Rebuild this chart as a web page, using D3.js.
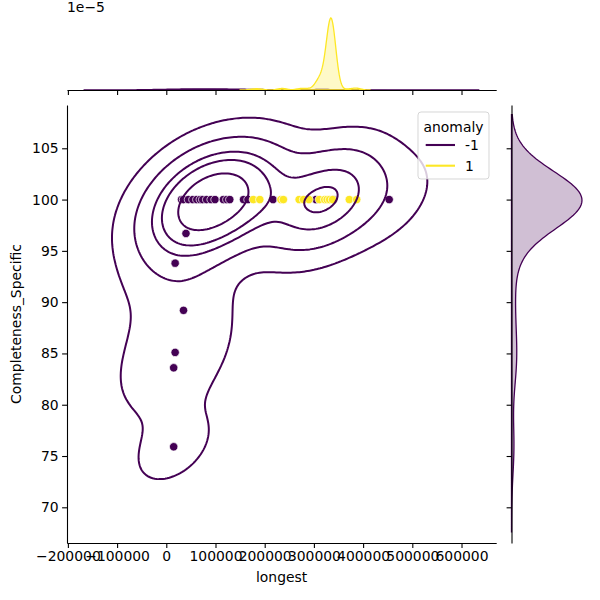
<!DOCTYPE html>
<html>
<head>
<meta charset="utf-8">
<script src="https://cdn.jsdelivr.net/npm/d3@7"></script>
<style>
  body { margin: 0; background: #fff; }
  text { font-family: "DejaVu Sans", sans-serif; fill: #000; }
</style>
</head>
<body>
<div id="chart"></div>
<script>
// anomaly = -1 points (longest, Completeness_Specific, how many rows share the spot)
const negLongest = [31000, 35000, 45000, 54000, 62000, 69000, 74000, 82000, 91000, 99000,
    116000, 123000, 129000, 157000, 166000, 217000, 304000, 340000, 453000,
    40000, 18000, 35000, 18000, 15000, 15000];
const negCompleteness = [100, 100, 100, 100, 100, 100, 100, 100, 100, 100,
    100, 100, 100, 100, 100, 100, 100, 100, 100,
    96.7, 93.8, 89.2, 85.1, 83.6, 75.9];
const negCount = [1, 1, 1, 1, 1, 1, 1, 1, 1, 2,
    2, 2, 2, 1, 1, 1, 4, 4, 1,
    1, 1, 1, 1, 1, 1];

// anomaly = 1 points
const posLongest = [177000, 190000, 233000, 238000, 270000, 279000, 290000, 311000, 322000, 327000, 332000, 338000, 372000, 387000];
const posCompleteness = [100, 100, 100, 100, 100, 100, 100, 100, 100, 100, 100, 100, 100, 100];
const posCount = [2, 2, 2, 2, 2, 2, 2, 24, 6, 6, 90, 90, 2, 4];

const hueLevels = ["-1", "1"];
const xTicks = [-200000, -100000, 0, 100000, 200000, 300000, 400000, 500000, 600000];
const yTicks = [70, 75, 80, 85, 90, 95, 100, 105];

const width = 600, height = 600;
const main = { left: 67, right: 496.2, top: 105, bottom: 543 };
const topBox = { top: 14.4, bottom: 90 };
const rightBox = { left: 511.5, right: 585.5 };
const color = d3.scaleOrdinal().domain(hueLevels).range(["#440154", "#fde725"]);
const fontSize = 13.9;
const tickLen = 4.9;

const x = d3.scaleLinear().domain([-201800, 670500]).range([main.left, main.right]);
const y = d3.scaleLinear().domain([66.52, 109.22]).range([main.bottom, main.top]);

// expand the repeated rows
function rows(xs, ys, counts) {
    const out = [];
    xs.forEach((v, i) => { for (let k = 0; k < counts[i]; k++) out.push([v, ys[i]]); });
    return out;
}
const negRows = rows(negLongest, negCompleteness, negCount);
const posRows = rows(posLongest, posCompleteness, posCount);
const total = negRows.length + posRows.length;

// gaussian kde, scott bandwidth (like scipy)
function kde1d(v, cut = 3, size = 200) {
    const n = v.length, bw = d3.deviation(v) * Math.pow(n, -0.2);
    const lo = d3.min(v) - cut * bw, hi = d3.max(v) + cut * bw;
    const k = 1 / (n * bw * Math.sqrt(2 * Math.PI));
    return d3.range(size).map(i => {
        const g = lo + (hi - lo) * i / (size - 1);
        return [g, k * d3.sum(v, t => Math.exp(-0.5 * ((g - t) / bw) ** 2))];
    });
}

function kde2d(pts, size = 200, cut = 3) {
    const n = pts.length;
    const mx = d3.mean(pts, p => p[0]), my = d3.mean(pts, p => p[1]);
    let sxx = 0, syy = 0, sxy = 0;
    pts.forEach(p => {
        const dx = p[0] - mx, dy = p[1] - my;
        sxx += dx * dx; syy += dy * dy; sxy += dx * dy;
    });
    const f2 = Math.pow(n, -1 / 3);
    const a = sxx / (n - 1) * f2, c = syy / (n - 1) * f2, b = sxy / (n - 1) * f2;
    const det = a * c - b * b;
    const ia = c / det, ic = a / det, ib = -b / det;
    const bx = Math.sqrt(a), by = Math.sqrt(c);
    const x0 = d3.min(pts, p => p[0]) - cut * bx, x1 = d3.max(pts, p => p[0]) + cut * bx;
    const y0 = d3.min(pts, p => p[1]) - cut * by, y1 = d3.max(pts, p => p[1]) + cut * by;
    const sx = (x1 - x0) / (size - 1), sy = (y1 - y0) / (size - 1);
    const values = new Float64Array(size * size);
    for (let j = 0; j < size; j++) {
        const gy = y0 + j * sy;
        for (let i = 0; i < size; i++) {
            const gx = x0 + i * sx;
            let s = 0;
            for (const p of pts) {
                const dx = gx - p[0], dy = gy - p[1];
                s += Math.exp(-0.5 * (ia * dx * dx + 2 * ib * dx * dy + ic * dy * dy));
            }
            values[j * size + i] = s;
        }
    }
    return { values, x0, y0, sx, sy, size };
}

// iso-proportion levels -> density levels (seaborn style)
function isoLevels(values, props) {
    const sorted = Array.from(values).sort((p, q) => q - p);
    const sum = d3.sum(sorted);
    const cum = [];
    let acc = 0;
    sorted.forEach(v => { acc += v; cum.push(acc / sum); });
    return props.map(p => sorted[Math.min(d3.bisectLeft(cum, 1 - p), sorted.length - 1)]);
}

const svg = d3.select("#chart").append("svg")
    .attr("width", width)
    .attr("height", height)
    .style("font-family", "DejaVu Sans, sans-serif");

svg.append("defs").append("clipPath").attr("id", "clip-main")
    .append("rect")
    .attr("x", main.left).attr("y", main.top)
    .attr("width", main.right - main.left).attr("height", main.bottom - main.top);

// ---- joint: scatter ----
const scatter = negLongest.map((v, i) => ({ x: v, y: negCompleteness[i], hue: "-1" }))
    .concat(posLongest.map((v, i) => ({ x: v, y: posCompleteness[i], hue: "1" })));

svg.append("g").attr("clip-path", "url(#clip-main)")
    .selectAll("circle")
    .data(scatter)
    .enter()
    .append("circle")
    .attr("cx", d => x(d.x))
    .attr("cy", d => y(d.y))
    .attr("r", 4.2)
    .attr("fill", d => color(d.hue))
    .attr("stroke", "white")
    .attr("stroke-width", 0.7);

// ---- joint: kde contours for -1 (the 1 group has a constant y) ----
const dens = kde2d(negRows);
const levelCount = 6, thresh = 0.05;
const props = d3.range(levelCount - 1).map(i => thresh + (1 - thresh) * i / (levelCount - 1));
const levels = isoLevels(dens.values, props);
const contours = d3.contours().size([dens.size, dens.size]).thresholds(levels)(dens.values);
const proj = d3.geoTransform({
    point(gx, gy) {
        this.stream.point(x(dens.x0 + (gx - 0.5) * dens.sx), y(dens.y0 + (gy - 0.5) * dens.sy));
    }
});
svg.append("g").attr("clip-path", "url(#clip-main)")
    .selectAll("path")
    .data(contours)
    .enter()
    .append("path")
    .attr("d", d3.geoPath(proj))
    .attr("fill", "none")
    .attr("stroke", color("-1"))
    .attr("stroke-width", 2);

// ---- main axes ----
const fmt = v => d3.format("d")(v).replace("-", "\u2212");
const gx = svg.append("g").attr("transform", `translate(0,${main.bottom})`)
    .call(d3.axisBottom(x).tickValues(xTicks).tickFormat(fmt).tickSizeInner(tickLen).tickSizeOuter(0).tickPadding(3.5));
const gy = svg.append("g").attr("transform", `translate(${main.left},0)`)
    .call(d3.axisLeft(y).tickValues(yTicks).tickSizeInner(tickLen).tickSizeOuter(0).tickPadding(3.5));
[gx, gy].forEach(g => {
    g.select(".domain").attr("stroke", "#000").attr("stroke-width", 1.1);
    g.selectAll(".tick line").attr("stroke", "#000").attr("stroke-width", 1.1);
    g.selectAll(".tick text").attr("font-size", fontSize).attr("font-family", "DejaVu Sans").attr("fill", "#000");
});

svg.append("text")
    .attr("x", (main.left + main.right) / 2)
    .attr("y", 582)
    .attr("text-anchor", "middle")
    .attr("font-size", fontSize)
    .text("longest");

svg.append("text")
    .attr("transform", `translate(21,${(main.top + main.bottom) / 2}) rotate(-90)`)
    .attr("text-anchor", "middle")
    .attr("font-size", fontSize)
    .text("Completeness_Specific");

// ---- top marginal ----
const topCurves = [
    { hue: "-1", pts: kde1d(negRows.map(d => d[0])).map(d => [d[0], d[1] * negRows.length / total]) },
    { hue: "1", pts: kde1d(posRows.map(d => d[0])).map(d => [d[0], d[1] * posRows.length / total]) }
];
const topMax = d3.max(topCurves, c => d3.max(c.pts, d => d[1]));
const yTop = d3.scaleLinear().domain([0, topMax * 1.05]).range([topBox.bottom, topBox.top]);
const topArea = d3.area().x(d => x(d[0])).y0(yTop(0)).y1(d => yTop(d[1]));

topCurves.forEach(c => {
    svg.append("path").attr("d", topArea(c.pts))
        .attr("fill", color(c.hue)).attr("fill-opacity", 0.25)
        .attr("stroke", color(c.hue)).attr("stroke-width", 1.3);
});
svg.append("g").attr("transform", `translate(0,${topBox.bottom})`)
    .call(d3.axisBottom(x).tickValues(xTicks).tickFormat("").tickSizeInner(tickLen).tickSizeOuter(0))
    .call(g => g.select(".domain").attr("stroke", "#000").attr("stroke-width", 1.1))
    .call(g => g.selectAll(".tick line").attr("stroke", "#000").attr("stroke-width", 1.1));

svg.append("text")
    .attr("x", main.left)
    .attr("y", 12)
    .attr("font-size", fontSize)
    .text("1e\u22125");

// ---- right marginal ----
const rightPts = kde1d(negRows.map(d => d[1])).map(d => [d[0], d[1] * negRows.length / total]);
const rightMax = d3.max(rightPts, d => d[1]);
const xRight = d3.scaleLinear().domain([0, rightMax * 1.05]).range([rightBox.left, rightBox.right]);
const rightArea = d3.area().y(d => y(d[0])).x0(xRight(0)).x1(d => xRight(d[1]));
svg.append("path").attr("d", rightArea(rightPts))
    .attr("fill", color("-1")).attr("fill-opacity", 0.25)
    .attr("stroke", color("-1")).attr("stroke-width", 1.3);
svg.append("g").attr("transform", `translate(${rightBox.left},0)`)
    .call(d3.axisLeft(y).tickValues(yTicks).tickFormat("").tickSizeInner(tickLen).tickSizeOuter(0))
    .call(g => g.select(".domain").attr("stroke", "#000").attr("stroke-width", 1.1))
    .call(g => g.selectAll(".tick line").attr("stroke", "#000").attr("stroke-width", 1.1));

// ---- legend ----
const legend = svg.append("g").attr("transform", "translate(418,112)");
legend.append("rect")
    .attr("width", 71).attr("height", 67).attr("rx", 3)
    .attr("fill", "white").attr("fill-opacity", 0.8)
    .attr("stroke", "#cccccc").attr("stroke-opacity", 0.8);
legend.append("text")
    .attr("x", 35.5).attr("y", 20)
    .attr("text-anchor", "middle")
    .attr("font-size", fontSize)
    .text("anomaly");
hueLevels.forEach((h, i) => {
    const ly = 33 + i * 20.7;
    legend.append("line")
        .attr("x1", 7.7).attr("x2", 37).attr("y1", ly).attr("y2", ly)
        .attr("stroke", color(h)).attr("stroke-width", 2.1);
    legend.append("text")
        .attr("x", 47).attr("y", ly + 5)
        .attr("font-size", fontSize)
        .text(h);
});
</script>
</body>
</html>
